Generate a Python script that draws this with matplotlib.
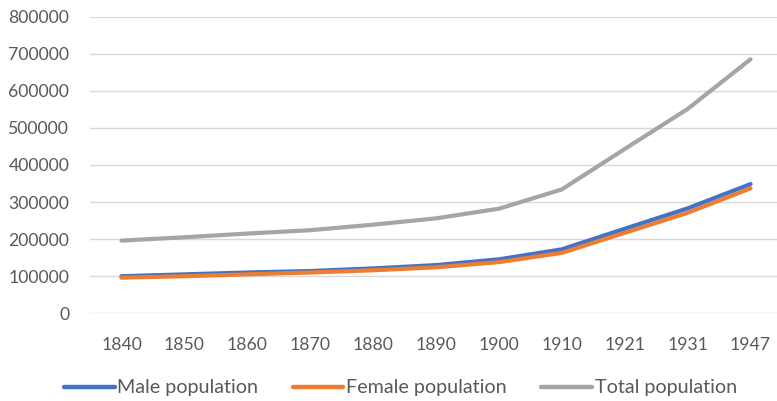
import matplotlib
matplotlib.use("Agg")
import matplotlib.pyplot as plt

years = ["1840", "1850", "1860", "1870", "1880", "1890", "1900", "1910", "1921", "1931", "1947"]
male = [100000, 105000, 110000, 114000, 121000, 130000, 145500, 172500, 228000, 283000, 348500]
female = [96000, 100000, 105000, 110000, 116000, 124000, 138000, 163000, 217000, 271000, 337000]
total = [196000, 205000, 215000, 224000, 239000, 256000, 282000, 334000, 443000, 551000, 685000]
series_names = ["Male population", "Female population", "Total population"]
colors = ["#4472C4", "#ED7D31", "#A5A5A5"]
yticks = list(range(0, 800001, 100000))

plt.rcParams['font.family'] = ['Lato', 'DejaVu Sans']
fig = plt.figure(figsize=(7.77, 4.01), dpi=100)
ax = fig.add_axes([90/777, 1-313.3/401, 692/777, (313.3-16.6)/401])

x = list(range(len(years)))
for vals, name, c in zip([male, female, total], series_names, colors):
    ax.plot(x, vals, color=c, lw=3.0, label=name, solid_capstyle='round', solid_joinstyle='round')

ax.set_xlim(-0.5, len(years) - 0.5)
ax.set_ylim(0, 800000)
ax.set_yticks(yticks)
ax.set_yticklabels([str(v) for v in yticks])
ax.set_xticks(x)
ax.set_xticklabels(years)
ax.grid(axis='y', color='#D9D9D9', lw=1.0)
ax.set_axisbelow(True)
for s in ax.spines.values():
    s.set_visible(False)
ax.tick_params(axis='both', length=0, labelsize=12.7, labelcolor='#595959')
ax.tick_params(axis='y', pad=15)
ax.tick_params(axis='x', pad=17)

leg = fig.legend(loc='center', bbox_to_anchor=(400.5/777, 1-388/401), ncol=3, frameon=False,
                 fontsize=14.2, handlelength=2.55, handletextpad=0.15, columnspacing=1.75,
                 borderaxespad=0, borderpad=0)
for t in leg.get_texts():
    t.set_color('#595959')
for h in leg.get_lines():
    h.set_linewidth(3.2)

fig.savefig("out.png", dpi=100)
